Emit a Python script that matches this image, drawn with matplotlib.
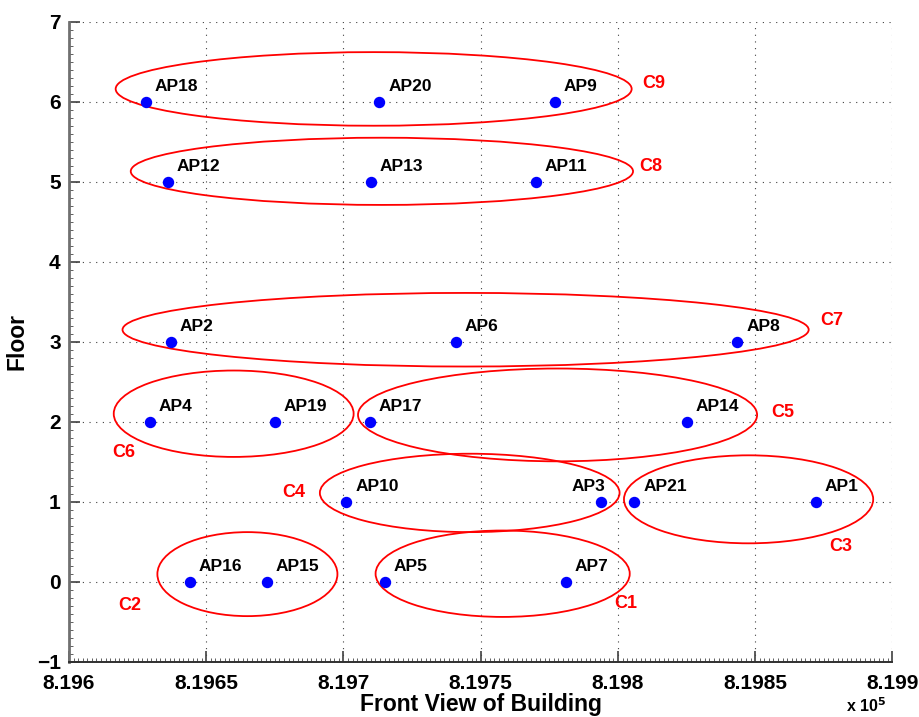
import matplotlib
matplotlib.use("Agg")
import matplotlib.pyplot as plt
from matplotlib.patches import Ellipse
from matplotlib.ticker import MultipleLocator, FuncFormatter

plt.rcParams["font.family"] = ["Liberation Sans", "DejaVu Sans"]
plt.rcParams["font.weight"] = "bold"
plt.rcParams["axes.labelweight"] = "bold"

# Access point positions along the building front and their floors
ap_names = ["AP1", "AP2", "AP3", "AP4", "AP5", "AP6", "AP7", "AP8", "AP9", "AP10",
            "AP11", "AP12", "AP13", "AP14", "AP15", "AP16", "AP17", "AP18", "AP19",
            "AP20", "AP21"]
ap_x = [819872, 819637, 819794, 819629.5, 819715, 819741, 819781, 819843.5, 819777,
        819701, 819770, 819636, 819710, 819825, 819672, 819644, 819709.5, 819628,
        819675, 819713, 819806]
ap_floor = [1, 3, 1, 2, 0, 3, 0, 3, 6, 1, 5, 5, 5, 2, 0, 0, 2, 6, 2, 6, 1]

# Cluster outlines: centre x, centre floor, half-width, half-height
cluster_names = ["C1", "C2", "C3", "C4", "C5", "C6", "C7", "C8", "C9"]
cluster_cx = [819758, 819665, 819847.6, 819746, 819778, 819660, 819744.5, 819714, 819711]
cluster_cy = [0.10, 0.095, 1.03, 1.11, 2.085, 2.10, 3.15, 5.13, 6.16]
cluster_hw = [46.3, 32.8, 45.4, 54.6, 72.7, 43.7, 125.0, 91.5, 94.0]
cluster_hh = [0.54, 0.525, 0.55, 0.49, 0.58, 0.54, 0.46, 0.42, 0.46]
cluster_label_x = [819803, 819622, 819881, 819682, 819860, 819620, 819878, 819812, 819813]
cluster_label_y = [-0.27, -0.30, 0.445, 1.12, 2.12, 1.61, 3.27, 5.19, 6.225]

x_ticks = [819600, 819650, 819700, 819750, 819800, 819850, 819900]

fig = plt.figure(figsize=(9.2, 7.17), dpi=100)
ax = fig.add_axes([0.075, 0.0771, 0.895, 0.8926])

for cx, cy, hw, hh in zip(cluster_cx, cluster_cy, cluster_hw, cluster_hh):
    ax.add_patch(Ellipse((cx, cy), 2 * hw, 2 * hh, fill=False,
                         edgecolor="#ff0000", linewidth=1.3, zorder=3))

ax.plot(ap_x, ap_floor, linestyle="none", marker="o", markersize=7.2,
        color="#0000ff", zorder=4)

# AP3 sits next to AP21, so its name goes on the left side of the dot
left_labels = {"AP3"}
for name, x, y in zip(ap_names, ap_x, ap_floor):
    if name in left_labels:
        ax.annotate(name, (x, y), xytext=(3, 7.5), textcoords="offset points",
                    fontsize=12.5, fontweight="bold", color="black",
                    ha="right", va="baseline", zorder=5)
    else:
        ax.annotate(name, (x, y), xytext=(6.5, 7.5), textcoords="offset points",
                    fontsize=12.5, fontweight="bold", color="black",
                    ha="left", va="baseline", zorder=5)

for name, x, y in zip(cluster_names, cluster_label_x, cluster_label_y):
    ax.text(x, y, name, fontsize=13, fontweight="bold", color="#ff0000",
            ha="center", va="center", zorder=5)

ax.set_xlim(819600, 819900)
ax.set_ylim(-1, 7)
ax.set_xticks(x_ticks)
ax.xaxis.set_major_formatter(FuncFormatter(lambda v, p: "%g" % (v / 1e5)))
ax.yaxis.set_major_locator(MultipleLocator(1))
ax.xaxis.set_minor_locator(MultipleLocator(50 / 30))
ax.yaxis.set_minor_locator(MultipleLocator(0.1))

ax.grid(True, which="major", linestyle=(0, (1, 5)), color="#404040", linewidth=0.8)
ax.set_axisbelow(True)

for side in ("top", "right"):
    ax.spines[side].set_visible(False)
ax.spines["left"].set_linewidth(2.0)
ax.spines["left"].set_color("#707070")
ax.spines["bottom"].set_linewidth(1.4)
ax.spines["bottom"].set_color("#303030")

ax.tick_params(axis="both", which="major", direction="in", length=8, width=1.2,
               colors="#404040", labelcolor="black", labelsize=15)
ax.tick_params(axis="y", which="major", pad=6)
ax.tick_params(axis="x", which="major", pad=9)
ax.tick_params(axis="both", which="minor", direction="in", length=3, width=0.7,
               colors="#606060")

ax.set_xlabel("Front View of Building", fontsize=16.5, fontweight="bold", labelpad=0)
ax.set_ylabel("Floor", fontsize=16.5, fontweight="bold", labelpad=6)

fig.text(0.920, 0.003, r"x 10$^{\mathbf{5}}$", fontsize=11.5, fontweight="bold",
         ha="left", va="bottom")

fig.savefig("out.png", dpi=100, facecolor="white")
